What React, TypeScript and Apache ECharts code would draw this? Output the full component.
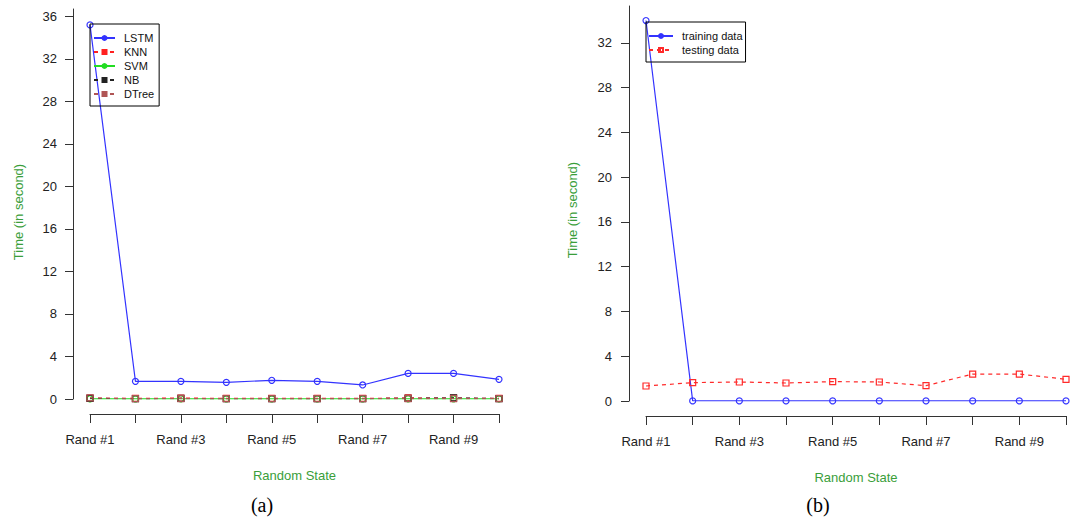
import React, { useEffect, useRef } from "react";
import * as echarts from "echarts";

const categories = ["Rand #1", "Rand #2", "Rand #3", "Rand #4", "Rand #5", "Rand #6", "Rand #7", "Rand #8", "Rand #9", "Rand #10"];

// Panel (a)
const lstm = [35.2, 1.66, 1.66, 1.57, 1.76, 1.66, 1.32, 2.41, 2.41, 1.85];
const knn = [0.08, 0.05, 0.09, 0.05, 0.05, 0.05, 0.05, 0.1, 0.08, 0.05];
const svm = [0.02, 0.01, 0.02, 0.01, 0.01, 0.01, 0.01, 0.02, 0.02, 0.01];
const nb = [0.05, 0.04, 0.05, 0.04, 0.04, 0.04, 0.04, 0.06, 0.1, 0.04];
const dtree = [0.1, 0.03, 0.04, 0.03, 0.03, 0.03, 0.03, 0.04, 0.04, 0.03];

// Panel (b)
const training = [34.0, 0.01, 0.01, 0.01, 0.01, 0.01, 0.01, 0.01, 0.01, 0.01];
const testing = [1.34, 1.64, 1.7, 1.61, 1.73, 1.7, 1.37, 2.41, 2.41, 1.94];

const yTicksA = [0, 4, 8, 12, 16, 20, 24, 28, 32, 36];
const yTicksB = [0, 4, 8, 12, 16, 20, 24, 28, 32];

const FONT = "Liberation Sans, Arial, sans-serif";
const GREEN = "#3a9e3a";
const AXIS = "#333333";

function xAxisCfg(gridIndex: number) {
  return {
    type: "category" as const,
    gridIndex,
    data: categories,
    boundaryGap: false,
    offset: 15,
    axisLine: { onZero: false, lineStyle: { color: AXIS, width: 1 } },
    axisTick: { interval: 0, length: 9, lineStyle: { color: AXIS } },
    axisLabel: { interval: 1, margin: 19, fontSize: 13, color: "#222", fontFamily: FONT },
    splitLine: { show: false },
    name: "Random State",
    nameLocation: "middle" as const,
    nameGap: 55,
    nameTextStyle: { color: GREEN, fontSize: 13, fontFamily: FONT },
  };
}

function yAxisCfg(gridIndex: number, max: number, ticks: number[], offset: number, margin: number) {
  return {
    type: "value" as const,
    gridIndex,
    min: 0,
    max,
    offset,
    axisLine: { show: true, onZero: false, lineStyle: { color: AXIS, width: 1 } },
    axisTick: { show: true, length: 8, customValues: ticks, lineStyle: { color: AXIS } },
    axisLabel: { customValues: ticks, margin, fontSize: 13, color: "#222", fontFamily: FONT },
    splitLine: { show: false },
  };
}

function lineSeries(name: string, data: number[], color: string, dashed: boolean, symbol: string, xi: number) {
  return {
    name,
    type: "line" as const,
    xAxisIndex: xi,
    yAxisIndex: xi,
    data,
    symbol,
    symbolSize: 6,
    showSymbol: true,
    itemStyle: { color: "transparent", borderColor: color, borderWidth: 1.2 },
    lineStyle: { color, width: 1.2, type: dashed ? [4, 4] : "solid" },
    emphasis: { disabled: true },
    z: 3,
  };
}

const legendText = { fontSize: 11, color: "#111", fontFamily: FONT, lineHeight: 14, padding: [0, 0, 0, 4] };

export default function App() {
  const ref = useRef<HTMLDivElement>(null);
  useEffect(() => {
    if (!ref.current) return;
    const chart = echarts.init(ref.current, null, { renderer: "svg" });
    chart.setOption({
      animation: false,
      backgroundColor: "#ffffff",
      grid: [
        { left: 90, width: 409, top: 9, bottom: 118, containLabel: false },
        { left: 646, width: 420, top: 6, bottom: 116, containLabel: false },
      ],
      xAxis: [xAxisCfg(0), xAxisCfg(1)],
      yAxis: [yAxisCfg(0, 36.7, yTicksA, 17, 16), yAxisCfg(1, 35.3, yTicksB, 17, 17)],
      legend: [
        {
          orient: "vertical",
          left: 90,
          top: 24,
          padding: [7, 5, 5, 3],
          itemGap: 0,
          itemWidth: 21,
          itemHeight: 5,
          borderColor: "#000",
          borderWidth: 1,
          selectedMode: false,
          data: ["LSTM", "KNN", "SVM", "NB", "DTree"],
          textStyle: legendText,
        },
        {
          orient: "vertical",
          left: 646,
          top: 22,
          padding: [7, 3, 5, 2],
          itemGap: 0,
          itemWidth: 24,
          itemHeight: 5,
          borderColor: "#000",
          borderWidth: 1,
          selectedMode: false,
          data: ["training data", "testing data"],
          textStyle: legendText,
        },
      ],
      series: [
        lineSeries("LSTM", lstm, "#3333ff", false, "circle", 0),
        lineSeries("KNN", knn, "#ff2020", true, "rect", 0),
        lineSeries("SVM", svm, "#22dd22", false, "circle", 0),
        lineSeries("NB", nb, "#222222", true, "rect", 0),
        lineSeries("DTree", dtree, "#b05555", true, "rect", 0),
        lineSeries("training data", training, "#3333ff", false, "circle", 1),
        lineSeries("testing data", testing, "#ff2a2a", true, "rect", 1),
      ],
      graphic: [
        {
          type: "text",
          x: 18,
          y: 212,
          rotation: Math.PI / 2,
          style: { text: "Time (in second)", fill: GREEN, font: `13px ${FONT}`, textAlign: "center", textVerticalAlign: "middle" },
        },
        {
          type: "text",
          x: 572,
          y: 210,
          rotation: Math.PI / 2,
          style: { text: "Time (in second)", fill: GREEN, font: `13px ${FONT}`, textAlign: "center", textVerticalAlign: "middle" },
        },
        {
          type: "text",
          x: 262,
          y: 505,
          style: { text: "(a)", fill: "#000", font: "20px Liberation Serif, Times New Roman, serif", textAlign: "center", textVerticalAlign: "middle" },
        },
        {
          type: "text",
          x: 818,
          y: 505,
          style: { text: "(b)", fill: "#000", font: "20px Liberation Serif, Times New Roman, serif", textAlign: "center", textVerticalAlign: "middle" },
        },
      ],
    });
    return () => chart.dispose();
  }, []);
  return (
    <div style={{ position: "fixed", left: 0, top: 0, width: 1070, height: 517, overflow: "hidden", background: "#fff" }}>
      <div ref={ref} style={{ width: 1100, height: 517 }} />
    </div>
  );
}
